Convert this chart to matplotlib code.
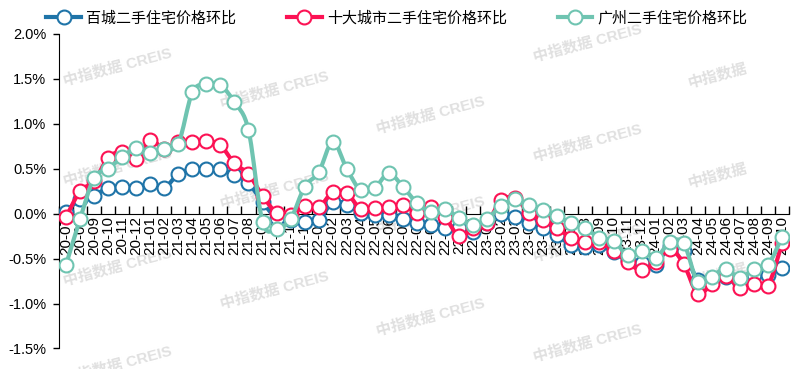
import numpy as np
import matplotlib
matplotlib.use('Agg')
import matplotlib.pyplot as plt
from matplotlib.path import Path
from matplotlib.patches import PathPatch
from matplotlib.lines import Line2D

plt.rcParams['font.family'] = ['Liberation Sans', 'Noto Sans CJK SC', 'DejaVu Sans']

# month labels 20-07 .. 24-10
months = ['20-07', '20-08', '20-09', '20-10', '20-11', '20-12',
          '21-01', '21-02', '21-03', '21-04', '21-05', '21-06',
          '21-07', '21-08', '21-09', '21-10', '21-11', '21-12',
          '22-01', '22-02', '22-03', '22-04', '22-05', '22-06',
          '22-07', '22-08', '22-09', '22-10', '22-11', '22-12',
          '23-01', '23-02', '23-03', '23-04', '23-05', '23-06',
          '23-07', '23-08', '23-09', '23-10', '23-11', '23-12',
          '24-01', '24-02', '24-03', '24-04', '24-05', '24-06',
          '24-07', '24-08', '24-09', '24-10']

# 百城二手住宅价格环比 (%)
hundred = [0.02, 0.16, 0.20, 0.29, 0.30, 0.29, 0.33, 0.29, 0.44, 0.50,
           0.50, 0.50, 0.43, 0.34, 0.13, -0.05, -0.07, -0.09, -0.07, 0.13,
           0.10, 0.01, -0.02, -0.02, -0.06, -0.10, -0.13, -0.16, -0.16, -0.20,
           -0.10, 0.00, -0.04, -0.10, -0.16, -0.24, -0.35, -0.37, -0.35, -0.43,
           -0.52, -0.55, -0.57, -0.36, -0.41, -0.74, -0.73, -0.71, -0.77, -0.68,
           -0.68, -0.60]

# 十大城市二手住宅价格环比 (%)
top10 = [-0.04, 0.25, 0.36, 0.62, 0.69, 0.61, 0.82, 0.72, 0.80, 0.80,
         0.81, 0.76, 0.56, 0.44, 0.20, 0.01, -0.02, 0.09, 0.07, 0.24,
         0.23, 0.05, 0.06, 0.07, 0.10, 0.01, 0.07, -0.04, -0.25, -0.16,
         -0.10, 0.15, 0.17, 0.01, -0.07, -0.16, -0.27, -0.32, -0.32, -0.41,
         -0.54, -0.63, -0.54, -0.39, -0.56, -0.89, -0.78, -0.69, -0.83, -0.78,
         -0.80, -0.33]

# 广州二手住宅价格环比 (%)
guangzhou = [-0.57, -0.06, 0.40, 0.50, 0.63, 0.73, 0.67, 0.72, 0.78, 1.35,
             1.44, 1.43, 1.24, 0.93, -0.09, -0.17, -0.06, 0.30, 0.46, 0.80,
             0.50, 0.26, 0.29, 0.45, 0.30, 0.12, 0.02, 0.05, -0.05, -0.13,
             -0.06, 0.09, 0.16, 0.10, 0.04, -0.03, -0.10, -0.16, -0.27, -0.30,
             -0.46, -0.41, -0.49, -0.32, -0.33, -0.76, -0.70, -0.61, -0.72, -0.61,
             -0.57, -0.26]

names = ['百城二手住宅价格环比', '十大城市二手住宅价格环比', '广州二手住宅价格环比']
colors = ['#1f74a8', '#fc1254', '#6fc4b1']


def smooth_path(x, y):
    # bezier curve through the points (excel-like smoothed line)
    n = len(x)
    verts = [(x[0], y[0])]
    codes = [Path.MOVETO]
    for i in range(n - 1):
        a = max(i - 1, 0)
        d = min(i + 2, n - 1)
        c1 = (x[i] + (x[i + 1] - x[a]) / 6, y[i] + (y[i + 1] - y[a]) / 6)
        c2 = (x[i + 1] - (x[d] - x[i]) / 6, y[i + 1] - (y[d] - y[i]) / 6)
        verts += [c1, c2, (x[i + 1], y[i + 1])]
        codes += [Path.CURVE4] * 3
    return Path(verts, codes)


fig = plt.figure(figsize=(7.99, 3.69), dpi=100)
ax = fig.add_axes([0.0738, 0.0556, 0.9137, 0.8523])
ax.patch.set_alpha(0)

# watermarks
marks = [(118, 67), (118, 167), (118, 267), (118, 365),
         (275, 90), (275, 190), (275, 290),
         (431, 115), (431, 215), (431, 317),
         (588, 43), (588, 143), (588, 243), (588, 343)]
for cx, cy in marks:
    ax.text(cx / 799, 1 - cy / 369, '中指数据 CREIS', transform=fig.transFigure,
            ha='center', va='center', rotation=15, fontsize=11, fontweight='bold',
            color='#e0e0e0', zorder=0.5, clip_on=False)
for cy in [76, 176, 276]:
    ax.text(718 / 799, 1 - cy / 369, '中指数据', transform=fig.transFigure,
            ha='center', va='center', rotation=15, fontsize=11, fontweight='bold',
            color='#e0e0e0', zorder=0.5, clip_on=False)

x = np.arange(len(months))
handles = []
for k, (vals, c, nm) in enumerate(zip([hundred, top10, guangzhou], colors, names)):
    z = 3 + k
    ax.add_patch(PathPatch(smooth_path(x, vals), fill=False, ec=c, lw=3,
                           capstyle='round', joinstyle='round', zorder=z))
    ax.plot(x, vals, linestyle='none', marker='o', ms=10, mfc='white',
            mec=c, mew=1.5, zorder=z)
    handles.append(Line2D([0], [0], color=c, lw=3, marker='o', ms=10,
                          mfc='white', mec=c, mew=1.5))

ax.set_xlim(-0.5, len(months) - 0.5)
ax.set_ylim(-1.5, 2.0)
yt = np.arange(-1.5, 2.01, 0.5)
ax.set_yticks(yt)
ax.set_yticklabels(['%.1f%%' % v for v in yt], fontsize=10.5)
ax.tick_params(axis='y', direction='out', length=4, width=1, pad=5)

# tick marks between months, labels at month centres
ax.set_xticks(np.arange(-0.5, len(months), 1))
ax.set_xticks(x, labels=months, minor=True)
ax.tick_params(axis='x', which='major', direction='in', length=6, width=1,
               labelbottom=False)
ax.tick_params(axis='x', which='minor', length=0, pad=2, labelrotation=90,
               labelsize=11)
for lbl in ax.get_xticklabels(minor=True):
    lbl.set_fontfamily('DejaVu Sans')

ax.spines['top'].set_visible(False)
ax.spines['right'].set_visible(False)
ax.spines['bottom'].set_position(('data', 0))

fig.legend(handles, names, loc='center', bbox_to_anchor=(0.497, 0.951), ncol=3,
           frameon=False, fontsize=10.8, handlelength=2.3, handletextpad=0.35,
           columnspacing=3.4)

fig.savefig('out.png', dpi=100)
